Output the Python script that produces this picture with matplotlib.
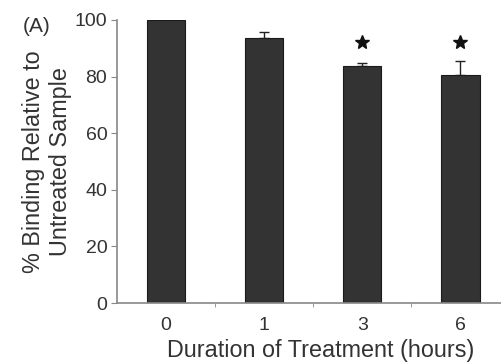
import matplotlib.pyplot as plt
import numpy as np

plt.rcParams['font.family'] = ['Liberation Sans', 'DejaVu Sans']

categories = ['0', '1', '3', '6']
values = [100, 93.5, 83.9, 80.6]
errors = [0, 2.1, 1.0, 5.0]
significant = [False, False, True, True]
star_level = 92.3

fig = plt.figure(figsize=(5.02, 3.63), dpi=100)
ax = fig.add_axes([117/502, 1-303/363, (509.5-117)/502, 283/363])

x = np.arange(len(categories))
ax.bar(x, values, width=0.39, color='#333333', edgecolor='#1a1a1a', linewidth=0.8, zorder=2)
ax.errorbar(x, values, yerr=[np.zeros(len(errors)), errors], fmt='none', ecolor='#222222',
            elinewidth=1.0, capsize=3.5, capthick=1.0, zorder=1)
for xi, s in zip(x, significant):
    if s:
        ax.plot(xi, star_level, marker='*', color='#111111', markersize=10, linestyle='none')

ax.set_xlim(-0.5, len(categories) - 0.5)
ax.set_ylim(0, 100)
ax.set_yticks([0, 20, 40, 60, 80, 100])
ax.set_xticks(x)
ax.set_xticklabels(categories)
ax.set_xticks(np.arange(0.5, len(categories) - 0.5, 1), minor=True)

for s in ['top', 'right']:
    ax.spines[s].set_visible(False)
for s in ['left', 'bottom']:
    ax.spines[s].set_color('#888888')
    ax.spines[s].set_linewidth(1.2)

tfs = 14
lfs = 16.8
ax.tick_params(axis='y', direction='out', length=4, color='#888888', labelsize=tfs,
               labelcolor='#333333', pad=3)
ax.tick_params(axis='x', which='major', length=0, labelsize=tfs, labelcolor='#333333', pad=10)
ax.tick_params(axis='x', which='minor', direction='out', length=3, color='#888888')

ax.set_xlabel('Duration of Treatment (hours)', fontsize=lfs, color='#333333', labelpad=3.5)
ax.xaxis.label.set_x(0.52)
ax.set_ylabel('% Binding Relative to\nUntreated Sample', fontsize=lfs, color='#333333',
              labelpad=2, linespacing=1.2)

fig.text(37/502, 1-27/363, '(A)', fontsize=15, color='#333333', ha='center', va='center')

fig.savefig('out.png', dpi=100)
